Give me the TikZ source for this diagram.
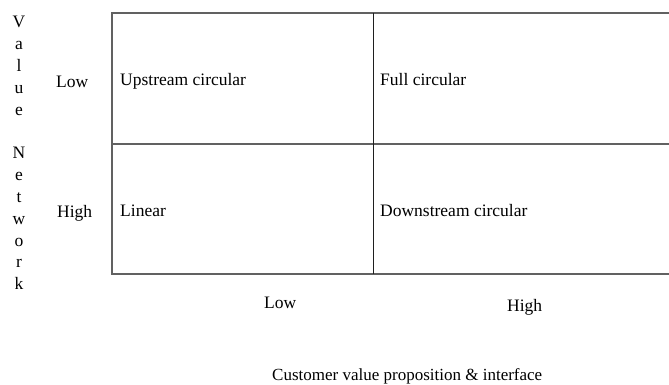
\documentclass[tikz,border=0pt]{standalone}
\usepackage{fontspec}
\setmainfont{Liberation Serif}
\begin{document}
\begin{tikzpicture}[x=1pt,y=-1pt,
  lbl/.style={anchor=base west,inner sep=0pt,font=\fontsize{17.5}{21}\selectfont},
  vlet/.style={anchor=base,inner sep=0pt,font=\fontsize{17.5}{21}\selectfont},
  gridline/.style={draw=black!62,line width=1.2pt},
  midline/.style={draw=black!88,line width=1.0pt}]
\useasboundingbox (0,0) rectangle (669,385);
% grid corners
\coordinate (tl) at (112,13);
\coordinate (tr) at (669,13);
\coordinate (ml) at (112,144);
\coordinate (mr) at (669,144);
\coordinate (bl) at (112,274);
\coordinate (br) at (669,274);
\coordinate (mt) at (373,13);
\coordinate (mb) at (373,274);
\draw[gridline] (tr) -- (tl) -- (bl) -- (br);
\draw[gridline] (ml) -- (mr);
\draw[midline] (mt) -- (mb);
% cell labels
\node[lbl] (uc) at (120,86) {Upstream circular};
\node[lbl] (fc) at (380,86) {Full circular};
\node[lbl] (li) at (120,216) {Linear};
\node[lbl] (dc) at (380,216) {Downstream circular};
% row labels
\node[lbl] (rlow) at (56,88) {Low};
\node[lbl] (rhigh) at (57,217) {High};
% column labels
\node[lbl] (clow) at (264,308) {Low};
\node[lbl] (chigh) at (507,311) {High};
% axis titles
\node[anchor=base west,inner sep=0pt,font=\fontsize{17}{20}\selectfont] (xtitle) at (272,380) {Customer value proposition \& interface};
\foreach \ch [count=\i from 0] in {V,a,l,u,e,{},N,e,t,w,o,r,k}{
  \node[vlet] (v\i) at (19,{28+\i*21.8}) {\ch};
}
\end{tikzpicture}
\end{document}
